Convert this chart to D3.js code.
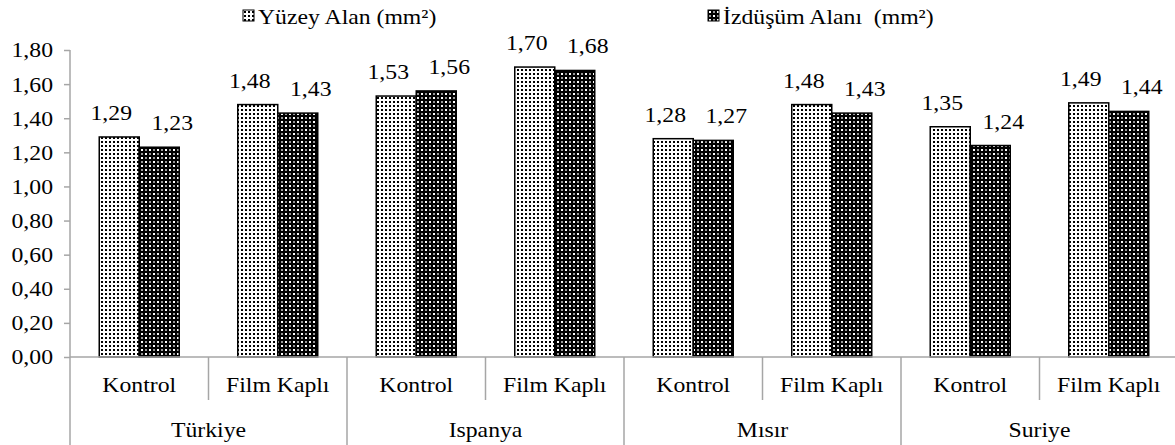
<!DOCTYPE html>
<html>
<head>
<meta charset="utf-8">
<script src="https://cdn.jsdelivr.net/npm/d3@7"></script>
<style>
  html, body { margin: 0; padding: 0; background: #fff; }
  svg text { font-family: "Liberation Serif", "Times New Roman", Times, serif !important; }
</style>
</head>
<body>
<svg id="chart" width="1175" height="445"></svg>
<script>
// ---- data ----
const countries = ["Türkiye", "Ispanya", "Mısır", "Suriye"];
const treatments = ["Kontrol", "Film Kaplı"];
const seriesNames = ["Yüzey Alan (mm²)", "İzdüşüm Alanı  (mm²)"];
const yuzeyAlan = [1.29, 1.48, 1.53, 1.70, 1.28, 1.48, 1.35, 1.49];
const izdusumAlani = [1.23, 1.43, 1.56, 1.68, 1.27, 1.43, 1.24, 1.44];
const yTicks = [0, 0.2, 0.4, 0.6, 0.8, 1.0, 1.2, 1.4, 1.6, 1.8];

// ---- layout ----
const svg = d3.select("#chart");
const mLeft = 70, mRight = 1178, mTop = 50, mBottom = 357;
const fmt = v => d3.format(".2f")(v).replace(".", ",");
const axisColor = "#a6a6a6";
const fontSize = 21;
const sx = 1.13; // horizontal stretch of the original text

function txt(parent, x, y, s, anchor) {
  return parent.append("text")
    .attr("transform", `translate(${x},${y}) scale(${sx},1)`)
    .attr("text-anchor", anchor || "middle")
    .attr("font-size", fontSize).attr("fill", "#000")
    .attr("xml:space", "preserve").style("white-space", "pre")
    .text(s);
}

const cells = [];
countries.forEach(c => treatments.forEach(t => cells.push(c + "|" + t)));

const x0 = d3.scaleBand().domain(cells).range([mLeft, mRight]).paddingInner(0).paddingOuter(0);
const xg = d3.scaleBand().domain(countries).range([mLeft, mRight]);
const barW = 40;
const x1 = d3.scaleBand().domain([0, 1]).range([x0.bandwidth() / 2 - barW, x0.bandwidth() / 2 + barW]);
const y = d3.scaleLinear().domain([0, 1.8]).range([mBottom, mTop]);

// patterns
const defs = svg.append("defs");
const p1 = defs.append("pattern").attr("id", "pat0").attr("patternUnits", "userSpaceOnUse")
  .attr("width", 4).attr("height", 4);
p1.append("rect").attr("width", 4).attr("height", 4).attr("fill", "#fff");
p1.append("rect").attr("x", 1).attr("y", 1).attr("width", 2).attr("height", 2).attr("fill", "#000");

const p2 = defs.append("pattern").attr("id", "pat1").attr("patternUnits", "userSpaceOnUse")
  .attr("width", 8).attr("height", 8);
p2.append("rect").attr("width", 8).attr("height", 8).attr("fill", "#000");
p2.append("rect").attr("x", 1).attr("y", 1).attr("width", 2).attr("height", 2).attr("fill", "#fff");
p2.append("rect").attr("x", 5).attr("y", 5).attr("width", 2).attr("height", 2).attr("fill", "#fff");
p2.append("rect").attr("x", 5).attr("y", 1).attr("width", 2).attr("height", 2).attr("fill", "#999");
p2.append("rect").attr("x", 1).attr("y", 5).attr("width", 2).attr("height", 2).attr("fill", "#999");

// y axis
const yAxis = svg.append("g").attr("transform", `translate(${mLeft},0)`)
  .call(d3.axisLeft(y).tickValues(yTicks).tickFormat(fmt).tickSize(6).tickPadding(10));
yAxis.attr("font-family", null).attr("font-size", null);
yAxis.select(".domain").remove();
yAxis.selectAll(".tick line").attr("stroke", axisColor).attr("stroke-width", 1.5);
yAxis.selectAll(".tick text")
  .attr("x", 0).attr("dy", "0.33em")
  .attr("transform", `translate(-17,0) scale(${sx},1)`)
  .attr("font-size", fontSize).attr("fill", "#000");
svg.append("line").attr("x1", mLeft).attr("x2", mLeft).attr("y1", y(1.8)).attr("y2", 445)
  .attr("stroke", axisColor).attr("stroke-width", 1.5);

// bars
const series = [yuzeyAlan, izdusumAlani];
series.forEach((vals, si) => {
  svg.append("g").selectAll("rect").data(vals).join("rect")
    .attr("x", (d, i) => x0(cells[i]) + x1(si))
    .attr("y", d => y(d))
    .attr("width", x1.bandwidth())
    .attr("height", d => y(0) - y(d))
    .attr("fill", `url(#pat${si})`)
    .attr("stroke", "#000").attr("stroke-width", 1.5);
  const dx = si === 0 ? -8 : 13;
  const lg = svg.append("g");
  vals.forEach((v, i) => {
    txt(lg, x0(cells[i]) + x1(si) + x1.bandwidth() / 2 + dx, y(v) - 17, fmt(v));
  });
});

// x axis baseline
svg.append("line").attr("x1", mLeft).attr("x2", mRight).attr("y1", mBottom).attr("y2", mBottom)
  .attr("stroke", axisColor).attr("stroke-width", 1.5);

// subcategory separators & labels
cells.forEach((c, i) => {
  const t = c.split("|")[1];
  if (t !== treatments[0]) {
    svg.append("line").attr("x1", x0(c)).attr("x2", x0(c)).attr("y1", mBottom).attr("y2", 400)
      .attr("stroke", axisColor).attr("stroke-width", 1.5);
  }
  txt(svg, x0(c) + x0.bandwidth() / 2, 392, t);
});
countries.forEach((c, i) => {
  if (i > 0) {
    svg.append("line").attr("x1", xg(c)).attr("x2", xg(c)).attr("y1", mBottom).attr("y2", 445)
      .attr("stroke", axisColor).attr("stroke-width", 1.5);
  }
  txt(svg, xg(c) + xg.bandwidth() / 2, 437, c);
});

// legend
const legX = [243, 708];
seriesNames.forEach((n, si) => {
  const g = svg.append("g").attr("transform", `translate(${legX[si]},10)`);
  g.append("rect").attr("width", 11).attr("height", 11).attr("fill", `url(#pat${si})`)
    .attr("stroke", "#000").attr("stroke-width", 1);
  txt(g, 15, 14, n, "start");
});
</script>
</body>
</html>
